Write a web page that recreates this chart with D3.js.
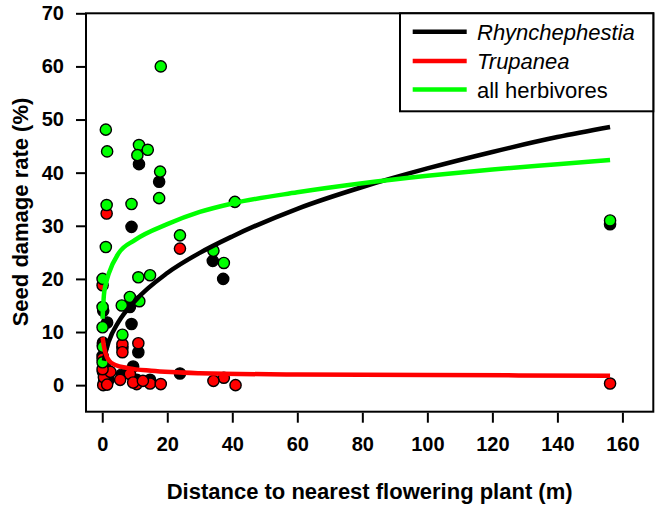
<!DOCTYPE html>
<html>
<head>
<meta charset="utf-8">
<script src="https://cdn.jsdelivr.net/npm/d3@7"></script>
<style>
  html, body { margin: 0; padding: 0; background: #fff; }
  svg { display: block; }
  text { font-family: Arial, "Liberation Sans", sans-serif; }
</style>
</head>
<body>
<svg id="chart" width="662" height="505"></svg>
<script>
// ---- data ----
const xTicks = [0, 20, 40, 60, 80, 100, 120, 140, 160];
const yTicks = [0, 10, 20, 30, 40, 50, 60, 70];

// points [distance m, damage %]
const rhynPoints = [
  [156.2, 30.3], [34.0, 23.4], [37.2, 20.0], [23.9, 2.2],
  [17.5, 38.3], [11.3, 41.6], [9.0, 29.8],
  [9.0, 11.5], [11.1, 6.2], [8.5, 14.7],
  [0.3, 14.0], [1.5, 11.8], [0.2, 8.0], [0.1, 5.5],
  [0.2, 2.5], [0.5, 0.5], [2.0, 1.0], [6.0, 2.0], [6.2, 7.0],
  [9.5, 3.5], [10.6, 1.0], [14.7, 1.0], [1.0, 4.0]
];
const trupPoints = [
  [156.2, 0.3], [41.0, 0.0], [37.4, 1.4], [34.2, 0.8], [23.9, 25.7],
  [1.35, 32.3], [0.1, 18.8], [6.2, 7.7], [6.2, 6.2], [11.1, 7.9],
  [10.6, 0.2], [14.7, 0.3], [18.0, 0.2], [8.5, 2.1], [0.3, 0.0],
  [0.5, 1.5], [1.5, 0.1], [2.5, 2.5], [0.1, 5.0], [0.2, 7.5],
  [0.1, 3.0], [9.5, 0.5], [12.5, 0.8], [5.5, 1.0]
];
const allPoints = [
  [156.2, 31.0], [40.8, 34.5], [34.2, 25.3], [37.4, 23.0], [23.9, 28.2],
  [18.0, 60.0], [17.8, 40.2], [17.5, 35.2], [11.3, 45.2], [14.0, 44.3],
  [10.8, 43.3], [1.1, 48.1], [1.5, 44.0], [1.35, 33.9], [9.0, 34.1],
  [1.1, 26.0], [0.1, 20.0], [11.1, 20.3], [14.7, 20.7], [8.5, 16.6],
  [11.4, 15.8], [6.0, 15.0], [0.1, 14.7], [0.1, 10.9], [6.2, 9.5],
  [0.2, 7.2], [0.1, 4.3]
];

// fitted curves
const rhynCurve = [
  [0.5, 4.6], [1, 6.1], [2, 8.2], [5, 11.9], [10, 15.8], [20, 21.1], [30, 24.9],
  [40, 28.0], [60, 33.2], [80, 37.3], [100, 40.8], [120, 43.9], [140, 46.7], [156.2, 48.6]
];
const trupCurve = [
  [0.1, 9.0], [0.5, 7.4], [1, 6.0], [2, 4.7], [4, 3.8], [8, 3.2], [15, 2.7],
  [30, 2.25], [60, 2.0], [100, 1.9], [156.2, 1.77]
];
const allCurve = [
  [0.1, 12.5], [0.5, 16.9], [1, 18.8], [2, 21.0], [5, 24.8], [10, 27.3], [20, 30.3],
  [30, 32.6], [40, 34.2], [60, 36.3], [80, 38.0], [100, 39.4], [120, 40.6], [140, 41.6], [156.2, 42.4]
];

const seriesNames = ["Rhynchephestia", "Trupanea", "all herbivores"];
const seriesColors = ["#000000", "#ff0000", "#00ff00"];

// ---- drawing ----
const svg = d3.select("#chart");
const plot = { left: 86, right: 653.3, top: 13.3, bottom: 411.7 };

const x = d3.scaleLinear().domain([-5, 169.5]).range([plot.left, plot.right]);
const y = d3.scaleLinear().domain([-5, 70]).range([plot.bottom, plot.top]);

const line = d3.line().x(d => x(d[0])).y(d => y(d[1])).curve(d3.curveMonotoneX);
const curves = [rhynCurve, trupCurve, allCurve];

const pts = [rhynPoints, trupPoints, allPoints];
pts.forEach((arr, i) => {
  svg.append("g").selectAll("circle").data(arr).join("circle")
    .attr("cx", d => x(d[0])).attr("cy", d => y(d[1]))
    .attr("r", 5.6)
    .attr("fill", seriesColors[i])
    .attr("stroke", "#000").attr("stroke-width", 1.4);
});

curves.forEach((c, i) => {
  svg.append("path").datum(c)
    .attr("d", line)
    .attr("fill", "none")
    .attr("stroke", seriesColors[i])
    .attr("stroke-width", 4.5)
    .attr("stroke-linecap", "butt");
});

// box
svg.append("rect")
  .attr("x", plot.left).attr("y", plot.top)
  .attr("width", plot.right - plot.left).attr("height", plot.bottom - plot.top)
  .attr("fill", "none").attr("stroke", "#000").attr("stroke-width", 2);

// axes
const xAxis = svg.append("g").attr("transform", `translate(0,${plot.bottom + 1})`)
  .call(d3.axisBottom(x).tickValues(xTicks).tickSize(10).tickPadding(14));
xAxis.select(".domain").remove();
xAxis.selectAll(".tick line").attr("stroke", "#000").attr("stroke-width", 2);
xAxis.selectAll(".tick text").attr("font-size", 20).attr("font-weight", "bold")
  .attr("fill", "#000").style("font-family", "Arial, 'Liberation Sans', sans-serif");

const yAxis = svg.append("g").attr("transform", `translate(${plot.left},0)`)
  .call(d3.axisLeft(y).tickValues(yTicks).tickSize(10).tickPadding(12));
yAxis.select(".domain").remove();
yAxis.selectAll(".tick line").attr("stroke", "#000").attr("stroke-width", 2);
yAxis.selectAll(".tick text").attr("font-size", 20).attr("font-weight", "bold")
  .attr("fill", "#000").style("font-family", "Arial, 'Liberation Sans', sans-serif");

// axis titles
svg.append("text")
  .attr("x", (plot.left + plot.right) / 2).attr("y", 499)
  .attr("text-anchor", "middle").attr("font-size", 22).attr("font-weight", "bold")
  .text("Distance to nearest flowering plant (m)");
svg.append("text")
  .attr("transform", "translate(28,212) rotate(-90)")
  .attr("text-anchor", "middle").attr("font-size", 22).attr("font-weight", "bold")
  .text("Seed damage rate (%)");

// legend
const lg = svg.append("g");
lg.append("rect").attr("x", 400).attr("y", plot.top)
  .attr("width", plot.right - 400).attr("height", 98)
  .attr("fill", "#fff").attr("stroke", "#000").attr("stroke-width", 2);
const legendY = [31.7, 61, 89.5];
seriesNames.forEach((name, i) => {
  lg.append("line").attr("x1", 412.7).attr("x2", 466.7)
    .attr("y1", legendY[i]).attr("y2", legendY[i])
    .attr("stroke", seriesColors[i]).attr("stroke-width", 4.5);
  lg.append("text").attr("x", 477).attr("y", legendY[i] + 8)
    .attr("font-size", 22)
    .attr("font-style", i < 2 ? "italic" : "normal")
    .text(name);
});
</script>
</body>
</html>
